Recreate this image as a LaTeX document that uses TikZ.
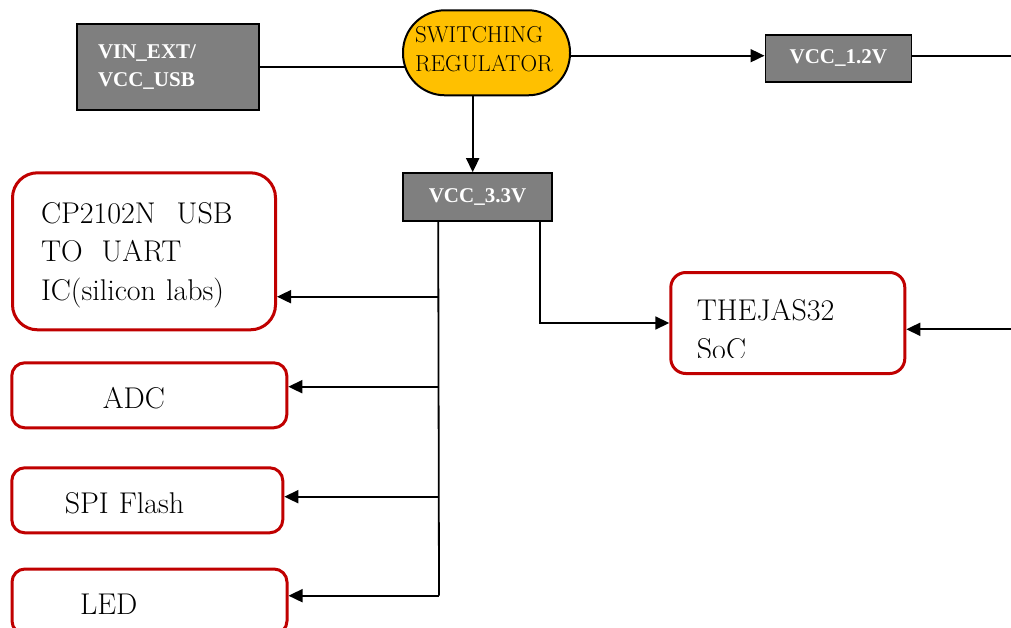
\documentclass[tikz,border=0pt]{standalone}
\usepackage{fontspec}
\newfontfamily\grayfont{Liberation Serif}
\usetikzlibrary{arrows.meta,calc,backgrounds}
\definecolor{boxgray}{HTML}{7F7F7F}
\definecolor{regyellow}{HTML}{FFC000}
\definecolor{boxred}{HTML}{C00000}
\tikzset{
  graybox/.style={draw=black, line width=1.6pt, fill=boxgray, text=white,
    font=\grayfont\bfseries\fontsize{21}{28.3}\selectfont, inner sep=0pt},
  regbox/.style={draw=black, line width=2pt, fill=regyellow, rounded corners=42pt,
    font=\fontsize{23}{29.4}\selectfont, align=left, inner ysep=0pt},
  redbox/.style={draw=boxred, line width=3pt, fill=white,
    font=\fontsize{30}{38.5}\selectfont, align=left, inner ysep=0pt},
  onerow/.style={text height=26pt, text depth=0pt},
  redtext/.style={font=\fontsize{30}{38.5}\selectfont, inner sep=0pt},
  wire/.style={line width=1.8pt, draw=black},
  arr/.style={wire, -{Triangle[length=14pt,width=13pt]}},
}
\begin{document}
\begin{tikzpicture}[x=1pt,y=-1pt]
\useasboundingbox (0,0) rectangle (1011,628);
\clip (0,0) rectangle (1011,628);

% top row
\node[graybox, minimum width=182pt, minimum height=86pt, text width=140pt,
      inner xsep=21pt, align=left] (vin) at (168,67) {VIN\_EXT/\\VCC\_USB};
\node[regbox, minimum width=167pt, minimum height=85pt, text width=143pt,
      inner xsep=12pt] (reg) at (486.5,52.8) {SWITCHING\\REGULATOR\rule[-7.4pt]{0pt}{0pt}};
\node[graybox, minimum width=146pt, minimum height=47pt] (v12) at (838.3,58.3) {VCC\_1.2V};
\node[graybox, minimum width=149pt, minimum height=48pt] (v33) at (477.5,197) {VCC\_3.3V};

% left column
\node[redbox, rounded corners=25pt, minimum width=263pt, minimum height=157pt,
      text width=206pt, inner xsep=28.5pt] (cp) at (144,251.3)
      {\rule{0pt}{28pt}CP2102N\hspace{11pt} USB\\TO\hspace{9pt} UART\\IC(silicon labs)};
\node[redbox, onerow, rounded corners=13pt, minimum width=275pt, minimum height=65pt,
      text width=93pt, inner xsep=91pt] (adc) at (149.3,395.3) {ADC};
\node[redbox, onerow, rounded corners=13pt, minimum width=271pt, minimum height=65pt,
      text width=165pt, inner xsep=53pt] (spi) at (147.3,500.3) {SPI Flash};
\node[redbox, onerow, rounded corners=13pt, minimum width=275pt, minimum height=65pt,
      text width=139pt, inner xsep=68pt] (led) at (149.5,601.5) {LED};

% SoC
\node[redbox, rounded corners=15pt, minimum width=234pt, minimum height=101pt] (soc) at (787.8,323) {};
\begin{scope}
  \clip (680,285) rectangle (890,357.5);
  \node[redtext, anchor=base west] (soct1) at (696.7,320) {THEJAS32};
  \node[redtext, anchor=base west] (soct2) at (696.7,359) {SoC};
\end{scope}

% free ends and junctions
\coordinate (e1) at (1011,55.7);
\coordinate (e2) at (1011,329.3);
\coordinate (d) at (472.7,0);
\coordinate (t) at ($(v33.south west)+(36,0)$);
\coordinate (b1) at (439,296.7);
\coordinate (b2) at (439,386.7);
\coordinate (b3) at (439,496.7);
\coordinate (b4) at (439,595.7);

\begin{scope}[on background layer]
  \fill[white] (0,0) rectangle (1011,628);
  \draw[wire] (vin.east) -- (vin.east -| reg.center);
  \draw[arr] (reg.center |- e1) -- (v12.west |- e1);
  \draw[wire] (v12.east |- e1) -- (e1);
  \draw[arr] (reg.center -| d) -- (v33.north -| d);
  \draw[wire] (t) -- (b4);
  \draw[arr] (b1) -- (b1 -| cp.east);
  \draw[arr] (b2) -- (b2 -| adc.east);
  \draw[arr] (b3) -- (b3 -| spi.east);
  \draw[arr] (b4) -- (b4 -| led.east);
  \draw[arr] ($(v33.south east)+(-13,0)$) |- (soc.west);
  \draw[arr] (e2) -- (e2 -| soc.east);
\end{scope}
\end{tikzpicture}
\end{document}
